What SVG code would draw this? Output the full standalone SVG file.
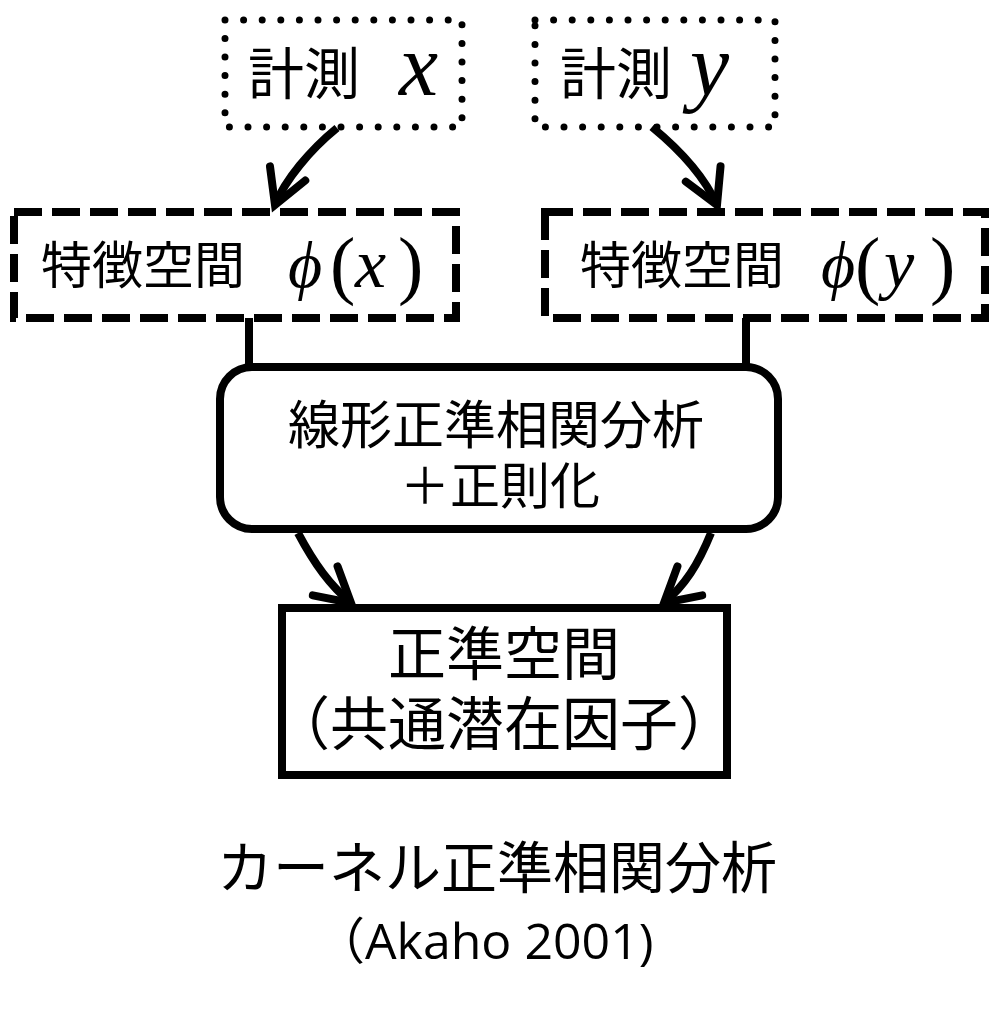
<svg xmlns="http://www.w3.org/2000/svg" width="1000" height="1012" viewBox="0 0 1000 1012">
<style>
.jp{font-family:"Noto Sans CJK JP","Noto Sans CJK SC",sans-serif;fill:#000}
.mi{font-family:"Liberation Serif","DejaVu Serif",serif;font-style:italic;fill:#000}
.mr{font-family:"Liberation Serif","DejaVu Serif",serif;fill:#000}
.dot{fill:none;stroke:#000;stroke-width:7;stroke-linecap:round;stroke-dasharray:0 18.6}
.dash{fill:none;stroke:#000;stroke-width:8;stroke-dasharray:28 10}
.solid{fill:#fff;stroke:#000;stroke-width:8}
.conn{fill:none;stroke:#000;stroke-width:8}
.cap{font-family:"Open Sans","Noto Sans CJK JP",sans-serif;fill:#000}
</style>
<defs>
<marker id="ah" markerUnits="userSpaceOnUse" viewBox="-45 -30 50 60" markerWidth="50" markerHeight="60" refX="0" refY="0" orient="auto" overflow="visible">
<path d="M-34,-19 L0,0 L-34,19" fill="none" stroke="#000" stroke-width="8" stroke-linecap="round" stroke-linejoin="miter"/>
</marker>
</defs>
<rect width="1000" height="1012" fill="#fff"/>
<g id="connectors">
<path class="conn" d="M337,128 C310,150 285,180 275,205" marker-end="url(#ah)"/>
<path class="conn" d="M652,127 C680,150 705,178 717,205" marker-end="url(#ah)"/>
<line class="conn" x1="249" y1="318" x2="249" y2="367"/>
<line class="conn" x1="746" y1="318" x2="746" y2="367"/>
<path class="conn" d="M298,533 C315,565 330,585 351,603" marker-end="url(#ah)"/>
<path class="conn" d="M711,533 C698,565 685,585 664,603" marker-end="url(#ah)"/>
</g>
<g id="measure-x">
<rect class="dot" x="225" y="20" width="237" height="107"/>
<text class="jp" x="248" y="94" font-size="56">計測</text>
<text class="mi" x="399" y="95" font-size="88">x</text>
</g>
<g id="measure-y">
<rect class="dot" x="535" y="20" width="240" height="107"/>
<text class="jp" x="560" y="94" font-size="56">計測</text>
<text class="mi" x="690" y="95" font-size="88">y</text>
</g>
<g id="feature-x">
<rect class="dash" x="14" y="212" width="442" height="106"/>
<text class="jp" x="41" y="284" font-size="51">特徴空間</text>
<text class="mi" x="288" y="287" font-size="66">ϕ</text>
<text class="mr" x="330" y="290" font-size="76">(</text>
<text class="mi" x="355" y="287" font-size="70">x</text>
<text class="mr" x="398" y="290" font-size="76">)</text>
</g>
<g id="feature-y">
<rect class="dash" x="545" y="212" width="440" height="106"/>
<text class="jp" x="580" y="284" font-size="51">特徴空間</text>
<text class="mi" x="821" y="287" font-size="66">ϕ</text>
<text class="mr" x="855" y="290" font-size="76">(</text>
<text class="mi" x="884" y="287" font-size="68">y</text>
<text class="mr" x="930" y="290" font-size="76">)</text>
</g>
<g id="linear-cca">
<rect class="solid" x="220" y="367" width="558" height="162" rx="32"/>
<text class="jp" x="496" y="444" font-size="52" text-anchor="middle">線形正準相関分析</text>
<text class="jp" x="500" y="504" font-size="50" text-anchor="middle">＋正則化</text>
</g>
<g id="canonical-space">
<rect class="solid" x="282" y="608" width="445" height="167"/>
<text class="jp" x="504" y="675" font-size="58" text-anchor="middle">正準空間</text>
<text class="jp" x="504" y="745" font-size="58" text-anchor="middle">（共通潜在因子）</text>
</g>
<g id="caption">
<text class="jp" x="497" y="888" font-size="56" text-anchor="middle">カーネル正準相関分析</text>
<text class="cap" x="315" y="959" font-size="50">（Akaho 2001)</text>
</g>
</svg>
